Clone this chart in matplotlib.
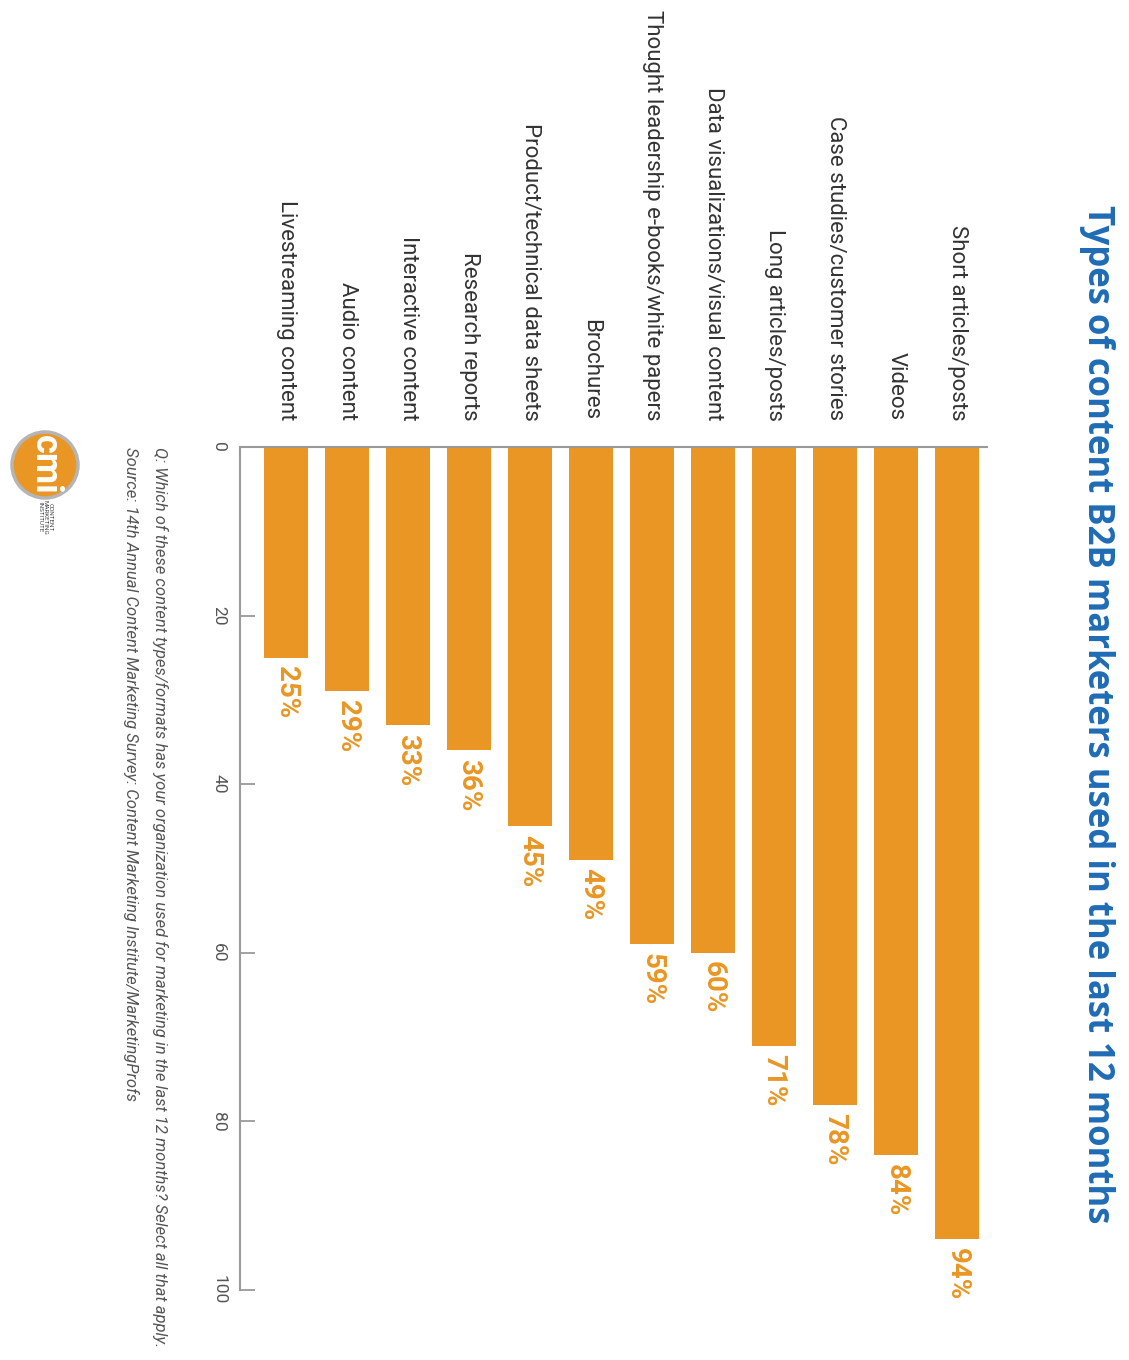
import matplotlib
matplotlib.use("Agg")
import matplotlib.pyplot as plt
from matplotlib.patches import Ellipse

# Data (picture is the chart turned 90 degrees clockwise)
categories = [
    "Livestreaming content",
    "Audio content",
    "Interactive content",
    "Research reports",
    "Product/technical data sheets",
    "Brochures",
    "Thought leadership e-books/white papers",
    "Data visualizations/visual content",
    "Long articles/posts",
    "Case studies/customer stories",
    "Videos",
    "Short articles/posts",
]
values = [25, 29, 33, 36, 45, 49, 59, 60, 71, 78, 84, 94]
ticks = [0, 20, 40, 60, 80, 100]

title = "Types of content B2B marketers used in the last 12 months"
question = ("Q: Which of these content types/formats has your organization used for "
            "marketing in the last 12 months? Select all that apply.")
source = ("Source: 14th Annual Content Marketing Survey: Content Marketing "
          "Institute/MarketingProfs")

ORANGE = "#E99624"
BLUE = "#1F6CB5"
GREY = "#555555"
AXIS_GREY = "#9a9a9a"
FONT = ["Roboto", "DejaVu Sans"]

W, H = 1129, 1360
fig = plt.figure(figsize=(W / 100, H / 100), dpi=100)
ax = fig.add_axes([240 / W, 1 - 1290 / H, (987 - 240) / W, (1290 - 447) / H])

x = list(range(len(categories)))
ax.bar(x, values, width=0.72, color=ORANGE)
ax.set_xlim(-0.754, len(categories) - 0.51)
ax.set_ylim(100, 0)

# category labels above the bars
ax.xaxis.set_ticks_position("top")
ax.set_xticks(x)
ax.set_xticklabels(categories, rotation=270, fontsize=16, color="#333333",
                   family=FONT)
ax.tick_params(axis="x", length=0, pad=19)

ax.set_yticks(ticks)
ax.set_yticklabels([str(t) for t in ticks], rotation=270, fontsize=12.5,
                   color=GREY, family=FONT, va="center")
ax.tick_params(axis="y", direction="in", length=11, width=1.3,
               color=AXIS_GREY, pad=10)

for s in ["right", "bottom"]:
    ax.spines[s].set_visible(False)
for s in ["left", "top"]:
    ax.spines[s].set_color(AXIS_GREY)
    ax.spines[s].set_linewidth(1.5)

for i, v in enumerate(values):
    ax.text(i, v + 1.0, f"{v}%", rotation=270, ha="center", va="top",
            color=ORANGE, fontsize=20, fontweight="bold", family=FONT)

fig.text(1097 / W, 1 - 205 / H, title, rotation=270, ha="center", va="top",
         color=BLUE, fontsize=25, fontweight="bold", family=["Open Sans", "DejaVu Sans"])

fig.text(160 / W, 1 - 447 / H, question, rotation=270, ha="center", va="top",
         color=GREY, fontsize=12, style="italic", family=FONT)
fig.text(131 / W, 1 - 447 / H, source, rotation=270, ha="center", va="top",
         color=GREY, fontsize=12, style="italic", family=FONT)

# logo
fig.add_artist(Ellipse((45 / W, 1 - 465 / H), 66 / W, 66 / H,
                       transform=fig.transFigure, facecolor=ORANGE,
                       edgecolor="#b5b5b5", linewidth=2.5))
fig.text(45 / W, 1 - 465 / H, "cmi", rotation=270, ha="center", va="center",
         color="white", fontsize=26, fontweight="bold", family=FONT)
fig.text(45 / W, 1 - 500 / H, "CONTENT\nMARKETING\nINSTITUTE", rotation=270,
         ha="center", va="top", color="#444444", fontsize=4.5,
         linespacing=1.0, family=FONT)

fig.savefig("out.png", dpi=100)
